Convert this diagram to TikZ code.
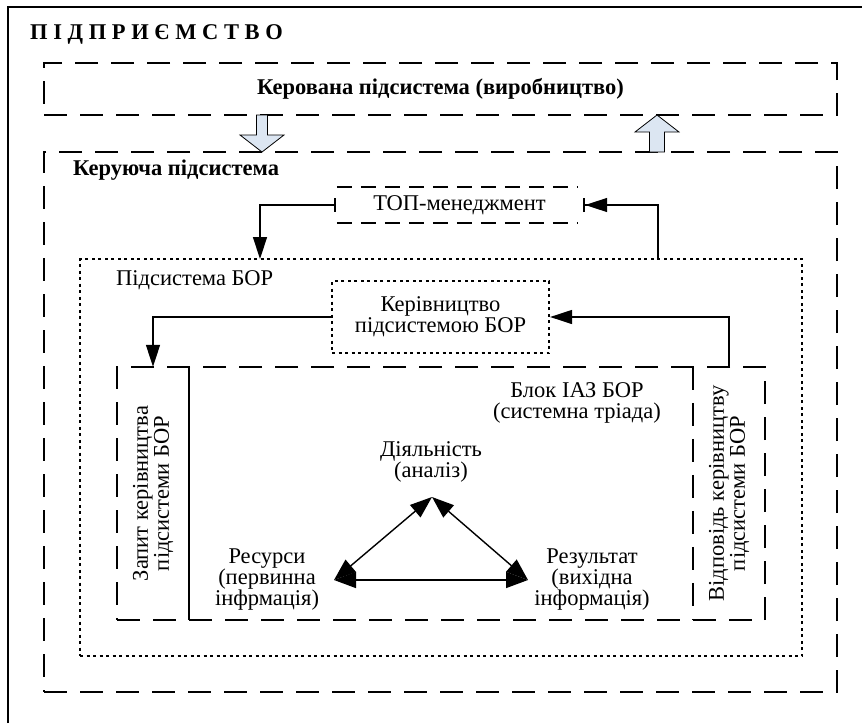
\documentclass[tikz,border=0pt]{standalone}
\usepackage{fontspec}
\setmainfont{Liberation Serif}
\usetikzlibrary{arrows.meta,positioning}

\definecolor{arrowfill}{RGB}{220,230,242}
\tikzset{
  dashbox/.style={draw,line width=2.2pt,dash pattern=on 23pt off 13pt},
  smalldash/.style={line width=2.2pt,dash pattern=on 15pt off 9pt},
  dotbox/.style={draw,line width=1.8pt,dash pattern=on 3pt off 3.5pt},
  conn/.style={line width=1.4pt,-{Triangle[length=22pt,width=14pt]}},
  triad/.style={line width=1.4pt,{Triangle[length=22pt,width=16pt]}-{Triangle[length=22pt,width=16pt]}},
  txt/.style={font=\fontsize{22.5}{21}\selectfont,align=center,inner sep=0pt},
  btxt/.style={font=\fontsize{22.5}{22}\selectfont\bfseries,inner sep=0pt},
  bigarrow/.style={draw,line width=0.8pt,fill=arrowfill},
}

\begin{document}
\begin{tikzpicture}[x=1pt,y=-1pt]
\useasboundingbox (0,0) rectangle (862,723);

% enterprise frame
\draw[line width=2.2pt] (8,723) -- (8,7) -- (862,7);
\node[btxt,anchor=base west] (title) at (30,39) {П І Д П Р И Є М С Т В О};

% managed subsystem
\node[dashbox,btxt,minimum width=793pt,minimum height=52pt] (kerovana) at (440.5,89) {Керована підсистема (виробництво)};

% managing subsystem
\node[dashbox,minimum width=793pt,minimum height=540pt] (keruyucha) at (440.5,422) {};
\node[btxt,anchor=base west] (keruyucha-lbl) at (73,175) {Керуюча підсистема};

% block arrows between subsystems
\draw[bigarrow] (256.5,115) -- (267.5,115) -- (267.5,135) -- (284,135) -- (262,152)
  -- (240,135) -- (256.5,135) -- cycle;
\draw[bigarrow] (649.5,152) -- (664.5,152) -- (664.5,132) -- (679,132) -- (657,115)
  -- (635,132) -- (649.5,132) -- cycle;

% top management
\node[txt,minimum width=247pt,minimum height=36pt] (topm) at (459.5,205) {ТОП-менеджмент};
\draw[smalldash] (topm.north west) ++(1,0) -- ([xshift=-5pt]topm.north east);
\draw[smalldash] (topm.south west) ++(1,0) -- ([xshift=-5pt]topm.south east);

% BOR subsystem
\node[dotbox,minimum width=722pt,minimum height=397pt] (bor) at (441,457.5) {};
\node[txt,anchor=base west] (bor-lbl) at (116,285) {Підсистема БОР};
\coordinate (bor-in) at (260,259);
\coordinate (bor-out) at (658,259);

\draw[conn,{Bar[width=14pt,line width=2pt]}-{Triangle[length=22pt,width=14pt]}] (topm.west) -| (bor-in);
\draw[conn,-{Triangle[length=22pt,width=14pt]Bar[width=14pt,line width=2pt]}] (bor-out) |- (topm.east);

% BOR management
\node[dotbox,line width=2.2pt,txt,minimum width=217pt,minimum height=72pt] (kerbor) at (440.5,317) {Керівництво\\підсистемою БОР};

% IAZ block
\node[dashbox,minimum width=648pt,minimum height=253pt] (blok) at (441,493.5) {};
\node[minimum width=72pt,minimum height=253pt,inner sep=0pt] (zapyt) at (153,493.5) {};
\node[minimum width=72pt,minimum height=253pt,inner sep=0pt] (vidp) at (729,493.5) {};
\draw[line width=2.2pt] (zapyt.north east) -- (zapyt.south east);
\draw[dashbox] (vidp.north west) -- (vidp.south west);
\node[txt,rotate=90] (zapyt-lbl) at (zapyt) {Запит керівництва\\підсистеми БОР};
\node[txt,rotate=90] (vidp-lbl) at (vidp) {Відповідь керівництву\\підсистеми БОР};
\node[txt] (blok-lbl) at (577,403) {Блок ІАЗ БОР\\(системна тріада)};

\draw[conn] (kerbor.west) -| (zapyt.north);
\draw[conn] (vidp.north) |- (kerbor.east);

% system triad
\node[txt] (dial) at (431,462) {Діяльність\\(аналіз)};
\node[txt] (res) at (267,580) {Ресурси\\(первинна\\інфрмація)};
\node[txt] (rez) at (592,580) {Результат\\(вихідна\\інформація)};
\coordinate (dial-pt) at (432,497);
\coordinate (res-pt) at (334,580);
\coordinate (rez-pt) at (528,580);
\draw[triad] (res-pt) -- (dial-pt);
\draw[triad] (dial-pt) -- (rez-pt);
\draw[triad] (res-pt) -- (rez-pt);
\end{tikzpicture}
\end{document}
